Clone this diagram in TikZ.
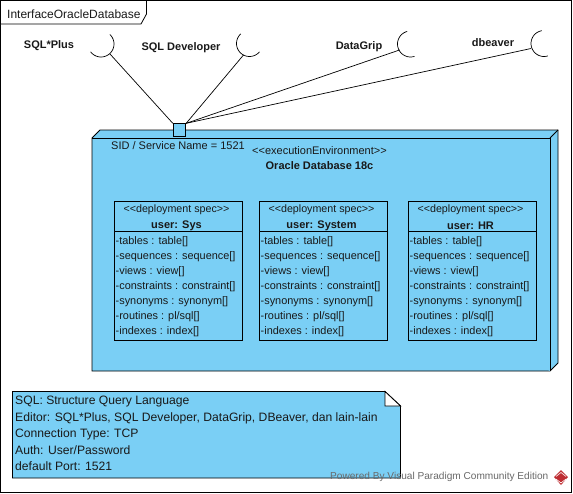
\documentclass[tikz,border=0pt]{standalone}
\usepackage{fontspec}
\setmainfont{Liberation Sans}
\definecolor{nodeblue}{RGB}{122,207,245}
\definecolor{wmgray}{RGB}{105,105,105}
\definecolor{wmred}{RGB}{190,45,50}
\tikzset{
  x=1pt,y=-1pt,
  edge/.style={draw=black,line width=0.8pt},
  thin edge/.style={draw=black,line width=0.7pt},
  blue shape/.style={draw=black,fill=nodeblue,line width=0.9pt},
  txt/.style={inner sep=0pt,yshift=-1pt,font=\fontsize{11}{13}\selectfont,text=black!90},
  bold txt/.style={txt,font=\fontsize{11}{13}\selectfont\bfseries},
  attr/.style={txt,anchor=west,font=\fontsize{10.9}{13}\selectfont},
  note txt/.style={inner sep=0pt,yshift=-1pt,anchor=west,font=\fontsize{12.15}{14}\selectfont,text=black!90},
  socket/.style={thin edge,smooth},
}
\newcommand{\socketarc}[4]{% cx, cy, from, to
  \draw[socket] plot[domain=#3:#4,samples=25] ({#1+13*cos(\x)},{#2+13*sin(\x)});}
\begin{document}
\begin{tikzpicture}
\useasboundingbox (0,0) rectangle (573,493);
\fill[white] (0,0) rectangle (573,493);
% frame
\draw[edge] (0.5,0.5) rectangle (571.5,492);
\draw[edge,fill=white] (0.5,0.5) -- (146.5,0.5) -- (146.5,14) -- (141,24) -- (0.5,24) -- cycle;
\node[note txt,font=\fontsize{12}{14}\selectfont] (frametitle) at (7,13) {InterfaceOracleDatabase};
% deployment node
\draw[blue shape] (92,138) -- (100,130) -- (558,130) -- (558,363) -- (550,371) -- (92,371) -- cycle;
\draw[blue shape] (92,138) -- (550,138) -- (550,371);
\draw[blue shape] (550,138) -- (558,130);
\node[txt,anchor=west] (sid) at (111,145) {SID / Service Name = 1521};
\node[txt] (stereo) at (319.5,150) {<{}<executionEnvironment>{}>};
\node[bold txt] (oracle) at (319.5,165) {Oracle Database 18c};
% port
\node[blue shape,minimum width=12.5pt,minimum height=12.5pt,inner sep=0pt] (port) at (179.5,130) {};
% sockets
\coordinate (s1) at (110,54);
\coordinate (s2) at (243.5,55);
\coordinate (s3) at (399.5,50);
\coordinate (s4) at (531,48.5);
\draw[thin edge] (port.north west) -- (s1);
\draw[thin edge] (port.north east) -- (s2);
\draw[thin edge] (port.north east) -- (s3);
\draw[thin edge] (port.north east) -- (s4);
\socketarc{101}{44}{-47}{143}
\socketarc{249.5}{43.5}{40}{228}
\socketarc{410.5}{44}{72}{255}
\socketarc{544}{43.5}{73}{260}
\node[bold txt] (l1) at (49,45) {SQL*Plus};
\node[bold txt] (l2) at (181,47) {SQL Developer};
\node[bold txt] (l3) at (359,46) {DataGrip};
\node[bold txt] (l4) at (493,42) {dbeaver};
% deployment specs
\foreach \n/\xa/\who in {a/114.5/Sys,b/259.5/System,c/408.5/HR}{
  \draw[blue shape] (\xa,201.5) rectangle ++(127.5,139);
  \draw[blue shape] (\xa,231.5) -- ++(127.5,0);
  \node[txt,font=\fontsize{10.7}{13}\selectfont] (\n h) at (\xa+62,209) {<{}<deployment spec>{}>};
  \node[bold txt] (\n t) at (\xa+62,224.5) {user: \who};
  \node[attr] (\n 1) at (\xa+1,241) {-tables : table[]};
  \node[attr] (\n 2) at (\xa+1,256) {-sequences : sequence[]};
  \node[attr] (\n 3) at (\xa+1,271) {-views : view[]};
  \node[attr] (\n 4) at (\xa+1,286) {-constraints : constraint[]};
  \node[attr] (\n 5) at (\xa+1,301) {-synonyms : synonym[]};
  \node[attr] (\n 6) at (\xa+1,316) {-routines : pl/sql[]};
  \node[attr] (\n 7) at (\xa+1,331) {-indexes : index[]};
}
% note
\draw[blue shape] (12.5,391.5) -- (385,391.5) -- (400.5,406) -- (400.5,478) -- (12.5,478) -- cycle;
\draw[edge,fill=white] (385,391.5) -- (385,406) -- (400.5,406) -- cycle;
\node[note txt] (n1) at (15,401) {SQL: Structure Query Language};
\node[note txt] (n2) at (15,417) {Editor: SQL*Plus, SQL Developer, DataGrip, DBeaver, dan lain-lain};
\node[note txt] (n3) at (15,433) {Connection Type: TCP};
\node[note txt] (n4) at (15,449) {Auth: User/Password};
\node[note txt] (n5) at (15,465.5) {default Port: 1521};
% watermark
\node[inner sep=0pt,anchor=west,text=wmgray,font=\fontsize{10.1}{12}\selectfont] (wm) at (330,477) {Powered By Visual Paradigm Community Edition};
\fill[wmred] (561,470) -- (568,477) -- (561,485) -- (554,477) -- cycle;
\draw[white,line width=0.6pt] (556,476.5) -- (561,472.5) -- (566,476.5);
\draw[white,line width=0.6pt] (556,479) -- (561,483) -- (566,479);
\end{tikzpicture}
\end{document}
